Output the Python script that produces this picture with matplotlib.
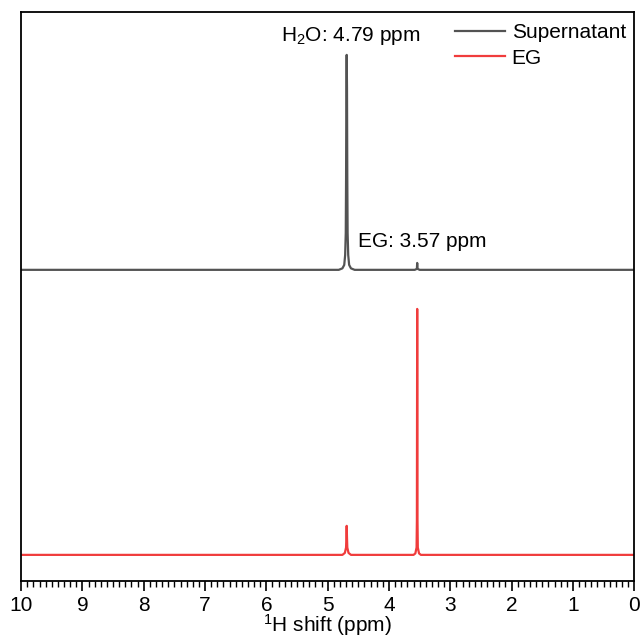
"""1H NMR of the supernatant vs ethylene glycol (EG), stacked traces.

Writes out.png
"""

import matplotlib
matplotlib.use("Agg")
import matplotlib.pyplot as plt
from matplotlib.ticker import MultipleLocator

plt.rcParams["font.family"] = ["Liberation Sans", "DejaVu Sans"]
plt.rcParams["mathtext.fontset"] = "custom"
plt.rcParams["mathtext.rm"] = "Liberation Sans"
plt.rcParams["mathtext.it"] = "Liberation Sans:italic"

# spectra (shift in ppm, intensity normalised to EG peak)
SUP_SHIFT = [10.0, 4.82, 4.76, 4.73, 4.715, 4.705, 4.70, 4.695, 4.69, 4.685,
             4.68, 4.675, 4.665, 4.65, 4.62, 4.56, 3.58, 3.545, 3.54, 3.535,
             3.50, 0.0]
SUP_INT = [0.0, 0.0, 0.006, 0.02, 0.06, 0.15, 0.37, 0.74, 0.874, 0.74,
           0.37, 0.15, 0.06, 0.02, 0.006, 0.0, 0.0, 0.004, 0.028, 0.004,
           0.0, 0.0]

EG_SHIFT = [10.0, 4.76, 4.72, 4.70, 4.695, 4.69, 4.685, 4.68, 4.66, 4.62,
            3.60, 3.57, 3.55, 3.545, 3.54, 3.535, 3.53, 3.51, 3.48, 0.0]
EG_INT = [0.0, 0.0, 0.008, 0.03, 0.07, 0.118, 0.07, 0.03, 0.008, 0.0,
          0.0, 0.006, 0.03, 0.14, 1.0, 0.14, 0.03, 0.006, 0.0, 0.0]

SUP_OFFSET = 1.159
LABELS = ["Supernatant", "EG"]
COLORS = ["#535353", "#f03c3c"]
FS = 15


def main():
    fig = plt.figure(figsize=(6.4, 6.37), dpi=100)
    ax = fig.add_axes([0.033, 0.088, 0.958, 0.893])

    ax.plot(SUP_SHIFT, [v + SUP_OFFSET for v in SUP_INT], color=COLORS[0],
            lw=1.6, label=LABELS[0])
    ax.plot(EG_SHIFT, EG_INT, color=COLORS[1], lw=1.6, label=LABELS[1])

    ax.text(5.76, SUP_OFFSET + 0.93, r"H$_2$O: 4.79 ppm", fontsize=FS,
            ha="left", va="baseline")
    ax.text(4.5, SUP_OFFSET + 0.094, "EG: 3.57 ppm", fontsize=FS,
            ha="left", va="baseline")

    ax.set_xlim(10, 0)
    ax.set_ylim(-0.106, 2.207)
    ax.xaxis.set_major_locator(MultipleLocator(1))
    ax.xaxis.set_minor_locator(MultipleLocator(0.1))
    ax.tick_params(axis="x", which="major", direction="out", length=7,
                   width=1.2, labelsize=FS, pad=4)
    ax.tick_params(axis="x", which="minor", direction="out", length=4,
                   width=1.0)
    ax.set_yticks([])
    for s in ax.spines.values():
        s.set_linewidth(1.3)
    ax.set_xlabel(r"$^1$H shift (ppm)", fontsize=FS, labelpad=-2.5)

    ax.legend(loc="upper right", frameon=False, fontsize=FS, handlelength=2.4,
              handletextpad=0.3, labelspacing=0.3, borderaxespad=0.0,
              bbox_to_anchor=(1.0, 0.995))

    fig.savefig("out.png", dpi=100)


if __name__ == "__main__":
    main()
